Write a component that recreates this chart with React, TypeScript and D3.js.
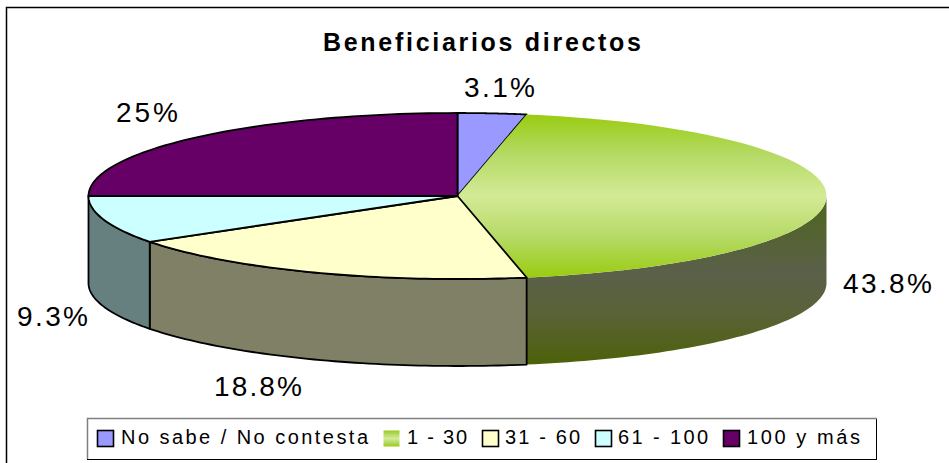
import React, { useMemo } from "react";
import * as d3 from "d3";

const title = "Beneficiarios directos";
const categories = ["No sabe / No contesta", "1 - 30", "31 - 60", "61 - 100", "100 y más"];
const shares = [3.0, 44.0, 18.7, 9.3, 25];
const labels = ["3.1%", "43.8%", "18.8%", "9.3%", "25%"];
const topColors = ["#9999ff", "url(#greenTop)", "#ffffcc", "#ccffff", "#660066"];
const sideColors = ["#4d4d80", "url(#greenSide)", "#808066", "#668080", "#330033"];
const strokes = ["#000", "none", "#000", "#000", "#000"];
// layout: [x start, baseline, text width]
const labelLayout: [number, number, number][] = [[464, 97, 71], [843, 293, 89], [214, 396, 88], [17, 326, 71], [116, 122, 62]];
const legendSwatchX = [97, 383, 482, 595, 723];
const legendTextX = [121, 407, 505, 618, 747];
const legendTextW = [247, 60, 75, 90, 113];

const W = 949, H = 463;
const cx = 457.5, cy = 196, rx = 369, ry = 83, depth = 87;

export default function App() {
  const arcs = useMemo(() => d3.pie<number>().sort(null)(shares), []);
  const px = d3.scaleLinear().domain([-1, 1]).range([cx - rx, cx + rx]);
  const py = d3.scaleLinear().domain([-1, 1]).range([cy + ry, cy - ry]);
  const line = d3.line<[number, number]>();
  const pt = (a: number, dz = 0): [number, number] => [px(Math.sin(a)), py(Math.cos(a)) + dz];
  const samples = (a0: number, a1: number) => d3.range(0, 61).map((i) => a0 + ((a1 - a0) * i) / 60);
  const topPath = (a0: number, a1: number) =>
    line([[cx, cy], ...samples(a0, a1).map((a) => pt(a))])! + "Z";
  const sidePath = (a0: number, a1: number) => {
    const from = Math.max(a0, Math.PI / 2);
    const to = Math.min(a1, (3 * Math.PI) / 2);
    if (to <= from) return null;
    const s = samples(from, to);
    return line([...s.map((a) => pt(a)), ...s.slice().reverse().map((a) => pt(a, depth))])! + "Z";
  };
  const font = "'Liberation Sans', Arial, sans-serif";
  return (
    <svg width={W} height={H} style={{ position: "absolute", left: 0, top: 0, background: "#fff" }}>
      <defs>
        <linearGradient id="greenTop" x1="0" y1="0" x2="0" y2="1">
          <stop offset="0" stopColor="#99cc11" />
          <stop offset="0.25" stopColor="#b5da66" />
          <stop offset="0.5" stopColor="#d4ea96" />
          <stop offset="0.75" stopColor="#b5da66" />
          <stop offset="1" stopColor="#99cc11" />
        </linearGradient>
        <linearGradient id="greenSide" x1="0" y1="0" x2="0" y2="1">
          <stop offset="0" stopColor="#4d6619" />
          <stop offset="0.45" stopColor="#5b604a" />
          <stop offset="0.7" stopColor="#5a6238" />
          <stop offset="1" stopColor="#4d6108" />
        </linearGradient>
      </defs>
      <rect x={6.5} y={7.5} width={W} height={H} fill="#fff" stroke="#000" strokeWidth={1.5} />
      <text x={323} y={51} fontFamily={font} fontSize={25} fontWeight="bold" textLength={318} lengthAdjust="spacing">
        {title}
      </text>
      {arcs.map((a, i) => {
        const d = sidePath(a.startAngle, a.endAngle);
        return d ? <path key={i} d={d} fill={sideColors[i]} stroke={strokes[i]} strokeWidth={1.8} strokeLinejoin="round" /> : null;
      })}
      {arcs.map((a, i) => (
        <path key={i} d={topPath(a.startAngle, a.endAngle)} fill={topColors[i]} stroke={strokes[i]} strokeWidth={1.8} strokeLinejoin="round" />
      ))}
      {labels.map((t, i) => (
        <text key={i} x={labelLayout[i][0]} y={labelLayout[i][1]} fontFamily={font} fontSize={28} textLength={labelLayout[i][2]} lengthAdjust="spacing">
          {t}
        </text>
      ))}
      <rect x={87.5} y={418.5} width={789} height={41} fill="#fff" stroke="#000" strokeWidth={1} />
      <path d="M87.5 459V418.5H877" fill="none" stroke="#808080" strokeWidth={1.5} />
      {categories.map((c, i) => (
        <g key={c}>
          <rect x={legendSwatchX[i] + 0.5} y={430.5} width={16} height={16} fill={topColors[i]} stroke={strokes[i]} strokeWidth={1.6} />
          <text x={legendTextX[i]} y={444} fontFamily={font} fontSize={20} textLength={legendTextW[i]} lengthAdjust="spacing">
            {c}
          </text>
        </g>
      ))}
    </svg>
  );
}
